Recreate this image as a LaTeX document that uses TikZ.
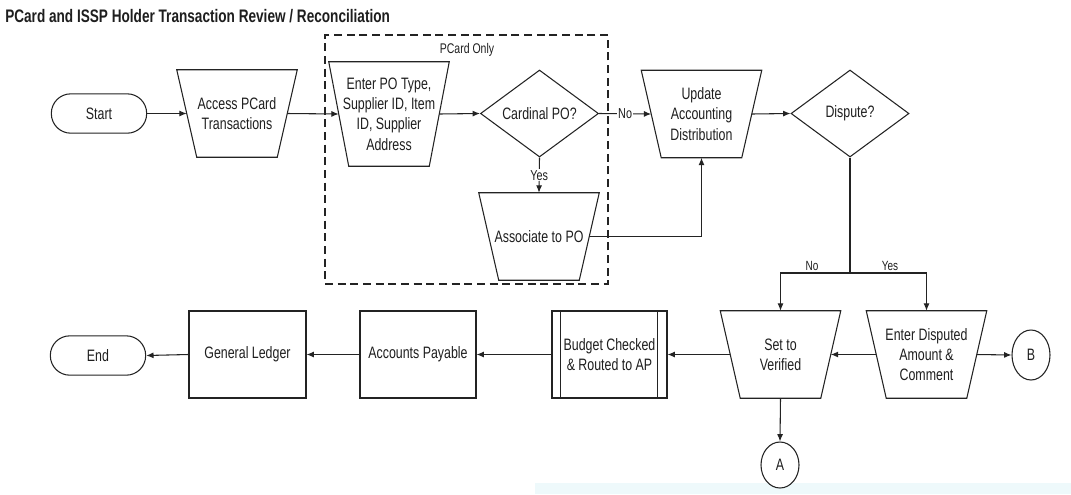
\documentclass[tikz,border=0pt]{standalone}
\usepackage{fontspec}
\setmainfont{Liberation Sans}[FakeStretch=0.75]
\usetikzlibrary{shapes.geometric,arrows.meta,calc}
\definecolor{ln}{RGB}{35,35,35}
\definecolor{txt}{RGB}{30,30,30}
\definecolor{band}{RGB}{238,249,251}
\begin{document}
\begin{tikzpicture}[x=0.75pt,y=-0.75pt,
  lbl/.style={font=\fontsize{12.4}{15.2}\selectfont, align=center, text=txt},
  small/.style={font=\fontsize{10.5}{12}\selectfont, text=txt, inner sep=1pt},
  trap/.style={lbl, minimum width=75pt, minimum height=65.25pt, inner sep=0pt},
  box/.style={lbl, draw=ln, line width=0.8pt, minimum height=65.25pt, inner sep=0pt},
  term/.style={lbl, draw=ln, line width=0.8pt, rounded corners=14.6pt, minimum width=71.5pt, minimum height=29.5pt, inner sep=0pt},
  dia/.style={lbl, draw=ln, line width=0.8pt, diamond, minimum width=88.5pt, minimum height=65.25pt, inner sep=0pt},
  conn/.style={lbl, draw=ln, line width=0.8pt, ellipse, fill=white, inner sep=0pt},
  arr/.style={draw=ln, line width=0.8pt, -{Latex[length=5.5pt,width=4.5pt]}},
  ln/.style={draw=ln, line width=0.8pt},
  grpbox/.style={draw=ln, line width=0.9pt, dash pattern=on 6pt off 3.5pt}
]
\useasboundingbox (0,0) rectangle (1071,494);
\fill[band] (535,483) rectangle (1071,494);

% title
\node[anchor=base west, inner sep=0pt, text=txt, font=\fontsize{13.6}{15}\selectfont\bfseries] (title) at (5,22) {PCard and ISSP Holder Transaction Review / Reconciliation};

% group
\node[grpbox, minimum width=212.25pt, minimum height=186.75pt, inner sep=0pt] (grp) at (466.5,159.5) {};
\node[small] (grplbl) at (467,50) {PCard Only};

% top row
\node[term] (start) at (99,113.5) {Start};
\node[trap] (acc) at (237,113.5) {Access PCard\\Transactions};
\node[trap, minimum height=78pt] (ent) at (389,114) {Enter PO Type,\\Supplier ID, Item\\ID, Supplier\\Address};
\node[dia] (card) at (539.5,113.5) {Cardinal PO?};
\node[trap] (assoc) at (539,236.5) {Associate to PO};
\node[trap] (upd) at (701.5,114) {Update\\Accounting\\Distribution};
\node[dia] (disp) at (850,113.5) {Dispute?};

% bottom row
\node[trap] (setv) at (780.5,354.5) {Set to\\Verified};
\node[trap] (entd) at (926.5,354.5) {Enter Disputed\\Amount \&\\Comment};
\node[conn, minimum width=28.5pt, minimum height=37.5pt] (B) at (1031,355) {B};
\node[conn, minimum width=28.5pt, minimum height=34.5pt] (A) at (780,465) {A};
\node[box, minimum width=86.25pt] (budget) at (609.5,354.5) {Budget Checked\\\& Routed to AP};
\node[box, minimum width=87pt] (ap) at (418,354.5) {Accounts Payable};
\node[box, minimum width=87.75pt] (gl) at (247.5,354.5) {General Ledger};
\node[term] (end) at (98,355.5) {End};

% trapezoid outlines
\foreach \n in {acc,ent,assoc,upd,setv,entd}{
  \draw[ln] ($(\n.north west)+(-10,0)$) -- ($(\n.north east)+(10,0)$) -- ($(\n.south east)+(-10,0)$) -- ($(\n.south west)+(10,0)$) -- cycle;
}
% predefined process bars
\draw[ln] ($(budget.north west)+(9,0)$) -- ($(budget.south west)+(9,0)$);
\draw[ln] ($(budget.north east)+(-10,0)$) -- ($(budget.south east)+(-10,0)$);

% connectors
\draw[arr] (start.east) -- (acc.west);
\draw[arr] (acc.east) -- (ent.west);
\draw[arr] (ent.east) -- (card.west);
\draw[arr] (card.east) -- node[small, fill=white, font=\fontsize{10.8}{12}\selectfont] {No} (upd.west);
\draw[arr] (card.south) -- node[small, fill=white, font=\fontsize{10.8}{12}\selectfont] {Yes} (assoc.north);
\draw[arr] (assoc.east) -| (upd.south);
\draw[arr] (upd.east) -- (disp.west);
\coordinate (split) at (850,273);
\draw[ln] (disp.south) -- (split);
\draw[arr] (split) -| (setv.north);
\draw[arr] (split) -| (entd.north);
\node[small, font=\fontsize{10}{12}\selectfont] (nolbl) at (812,266) {No};
\node[small, font=\fontsize{10}{12}\selectfont] (yeslbl) at (890,266) {Yes};
\draw[arr] (entd.west) -- (setv.east);
\draw[arr] (entd.east) -- (B.west);
\draw[arr] (setv.south) -- (A.north);
\draw[arr] (setv.west) -- (budget.east);
\draw[arr] (budget.west) -- (ap.east);
\draw[arr] (ap.west) -- (gl.east);
\draw[arr] (gl.west) -- (end.east);
\end{tikzpicture}
\end{document}
